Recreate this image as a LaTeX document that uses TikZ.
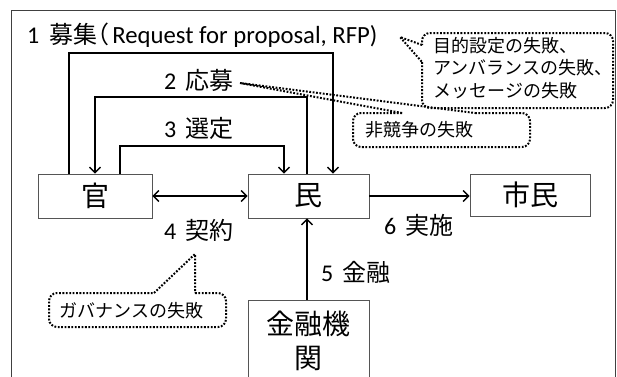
\documentclass[tikz,border=0pt]{standalone}
\usepackage{fontspec}
\setmainfont{Carlito}
\newfontfamily\cjk{Noto Sans CJK JP}
\newfontfamily\cjkh[RawFeature=+halt]{Noto Sans CJK JP}
\usetikzlibrary{arrows.meta}
\definecolor{framegray}{HTML}{404040}
\definecolor{boxgray}{HTML}{555555}
\begin{document}
\begin{tikzpicture}[x=1pt,y=-1pt,
  box/.style={draw=boxgray, line width=0.8pt, font=\cjk\fontsize{28}{34}\selectfont, inner sep=0pt, align=center},
  lbl/.style={anchor=west, inner sep=0pt, font=\fontsize{24}{28}\selectfont},
  arr/.style={line width=1.5pt, -{Straight Barb[length=5.5pt,width=11pt,line width=1.4pt]}},
  callout/.style={draw=black, line width=2pt, dash pattern=on 1.8pt off 1.6pt},
  ctext/.style={font=\cjk\fontsize{18}{22.5}\selectfont, inner sep=0pt, align=left}]
\useasboundingbox (0,0) rectangle (617,376);
\clip (0,0) rectangle (617,376);
\fill[white] (0,0) rectangle (617,376);
% frame
\draw[draw=framegray, line width=1pt] (11,390) -- (11,10) -- (615,10) -- (615,390);
% boxes
\node[box, minimum width=114pt, minimum height=44pt] (gov) at (95,196) {官};
\node[box, minimum width=121pt, minimum height=44pt] (min) at (308.5,196) {民};
\node[box, minimum width=120pt, minimum height=42pt] (shimin) at (530,195) {市民};
\node[box, minimum width=121pt, minimum height=82pt] (kinyu) at (308.5,341) {金融機\\関};
% labels
\node[lbl] (l1) at (27,35) {1\hspace{10pt}{\cjk 募集}{\cjkh （}\hspace{3pt}{\fontsize{24.7}{28}\selectfont Request for proposal, RFP)}};
\node[lbl] (l2) at (164,80) {2\hspace{9pt}{\cjk 応募}};
\node[lbl] (l3) at (164,128) {3\hspace{9pt}{\cjk 選定}};
\node[lbl] (l4) at (164,230) {4\hspace{9pt}{\cjk 契約}};
\node[lbl] (l5) at (321,272) {5\hspace{9pt}{\cjk 金融}};
\node[lbl] (l6) at (384,225) {6\hspace{9pt}{\cjk 実施}};
% connector corners
\coordinate (r1a) at (69,53);  \coordinate (r1b) at (333,53);
\coordinate (r2a) at (307,97); \coordinate (r2b) at (95,97);
\coordinate (r3a) at (120,146); \coordinate (r3b) at (284,146);
\draw[arr] (r1a |- gov.north) -- (r1a) -- (r1b) -- (r1b |- min.north);
\draw[arr] (r2a |- min.north) -- (r2a) -- (r2b) -- (r2b |- gov.north);
\draw[arr] (r3a |- gov.north) -- (r3a) -- (r3b) -- (r3b |- min.north);
\draw[arr, {Straight Barb[length=5.5pt,width=11pt,line width=1.4pt]}-{Straight Barb[length=5.5pt,width=11pt,line width=1.4pt]}] (gov.east) -- (min.west);
\draw[arr] (kinyu.north -| r2a) -- (min.south -| r2a);
\draw[arr] (min.east) -- (min.east -| shimin.west);
% callouts
\draw[callout] (422,62) [rounded corners=8pt] -- (422,108) -- (613,108) -- (613,33) -- (422,33) -- (422,45);
\draw[callout] (422,45) -- (400,37) -- (422,62);
\node[ctext] (c1) at (523,68) {目的設定の失敗、\\アンバランスの失敗、\\メッセージの失敗};
\draw[callout] (475,113) [rounded corners=8pt] -- (530,113) -- (530,147) -- (353,147) -- (353,113) -- (402,113);
\draw[callout] (402,113) -- (240,83) -- (475,113);
\node[ctext] (c2) at (419,130) {非競争の失敗};
\draw[callout] (195,293) [rounded corners=8pt] -- (226,293) -- (226,327) -- (49,327) -- (49,293) -- (154,293);
\draw[callout] (154,293) -- (195,254) -- (195,293);
\node[ctext] (c3) at (131.5,311) {ガバナンスの失敗};
\end{tikzpicture}
\end{document}
